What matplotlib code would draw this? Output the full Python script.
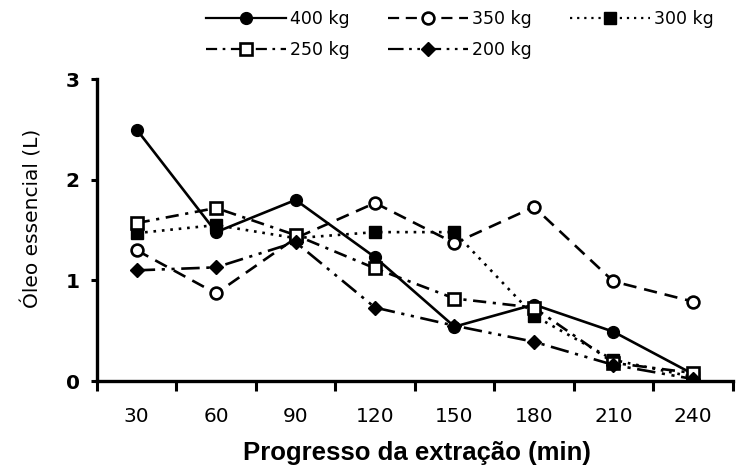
import matplotlib
matplotlib.use("Agg")
import matplotlib.pyplot as plt
import numpy as np

plt.rcParams['font.family'] = ['DejaVu Sans']

categories = ["30", "60", "90", "120", "150", "180", "210", "240"]
s400 = [2.50, 1.48, 1.80, 1.23, 0.54, 0.76, 0.49, 0.07]
s350 = [1.30, 0.87, 1.42, 1.77, 1.37, 1.73, 0.99, 0.79]
s300 = [1.47, 1.55, 1.42, 1.48, 1.48, 0.65, 0.21, 0.04]
s250 = [1.57, 1.72, 1.45, 1.12, 0.82, 0.73, 0.18, 0.08]
s200 = [1.10, 1.13, 1.38, 0.73, 0.55, 0.39, 0.16, 0.02]
labels = ["400 kg", "350 kg", "300 kg", "250 kg", "200 kg"]

fig = plt.figure(figsize=(7.4, 4.73), dpi=100)
ax = fig.add_axes([0.131, 0.1945, 0.859, 0.638])

x = np.arange(len(categories))
lw = 1.9
ms = 8.5
h400, = ax.plot(x, s400, color='black', lw=lw, ls='-', marker='o', ms=ms, mfc='black', mec='black')
h350, = ax.plot(x, s350, color='black', lw=lw, ls=(0, (5, 3)), marker='o', ms=ms, mfc='white', mec='black', mew=1.9)
h300, = ax.plot(x, s300, color='black', lw=lw, ls=(0, (1, 2.2)), marker='s', ms=ms, mfc='black', mec='black')
h250, = ax.plot(x, s250, color='black', lw=lw, ls=(0, (5, 2.5, 1.2, 2.5)), marker='s', ms=ms, mfc='white', mec='black', mew=1.9)
h200, = ax.plot(x, s200, color='black', lw=lw, ls=(0, (7, 2.5, 1.2, 2.5, 1.2, 2.5)), marker='D', ms=7.5, mfc='black', mec='black')

ax.set_xlim(-0.5, len(categories) - 0.5)
ax.set_ylim(0, 3)
ax.set_yticks([0, 1, 2, 3])
ax.set_xticks(x)
ax.set_xticklabels(categories)
ax.set_xticks(np.arange(-0.5, len(categories), 1.0), minor=True)
ax.tick_params(axis='x', which='major', length=0, pad=18.5, labelsize=14.5)
ax.tick_params(axis='x', which='minor', length=7, width=2.2, direction='out')
ax.tick_params(axis='y', length=4, width=2.2, direction='out', pad=8.5, labelsize=14.5)
for lab in ax.get_yticklabels():
    lab.set_fontweight('bold')

for side in ['top', 'right']:
    ax.spines[side].set_visible(False)
for side in ['left', 'bottom']:
    ax.spines[side].set_linewidth(2.4)

ax.set_xlabel("Progresso da extração (min)", fontsize=18.5, fontweight='bold',
              family=['Liberation Sans', 'DejaVu Sans'], va='top')
ax.xaxis.set_label_coords(0.503, -0.2)
ax.set_ylabel("Óleo essencial (L)", fontsize=14.5)
ax.yaxis.set_label_coords(-0.085, 0.54)

handles = [h400, h350, h300, h250, h200]
order = [0, 3, 1, 4, 2]
leg = fig.legend([handles[i] for i in order], [labels[i] for i in order],
                 ncol=3, loc='upper left', bbox_to_anchor=(206 / 740, 1 - 10 / 473),
                 frameon=False, fontsize=12.5, handlelength=4.6, numpoints=1,
                 columnspacing=2.2, handletextpad=0.25, labelspacing=0.75,
                 borderpad=0, borderaxespad=0)
for ln in leg.get_lines():
    ln.set_linewidth(1.6)

fig.savefig("out.png", dpi=100)
